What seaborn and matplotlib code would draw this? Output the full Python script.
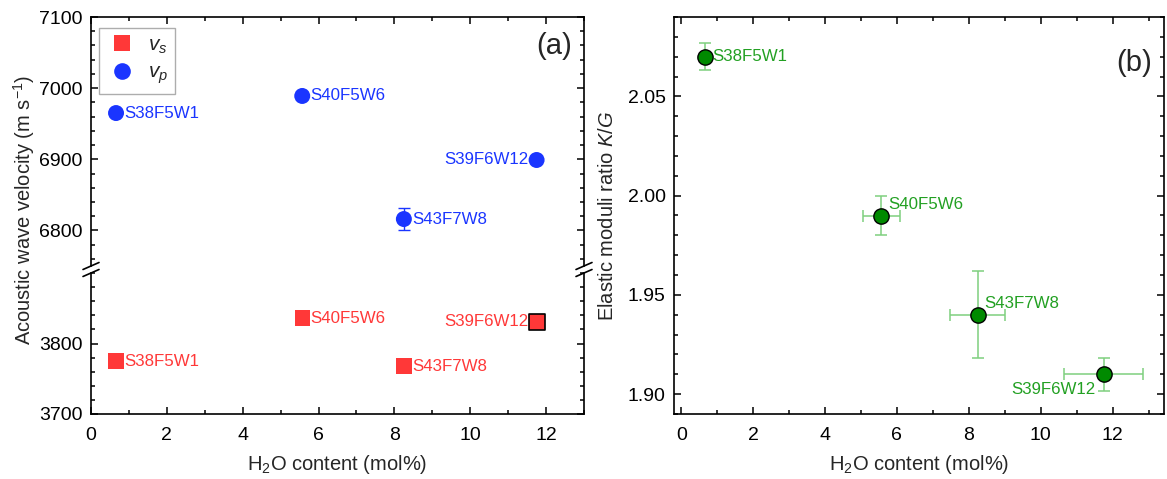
import numpy as np
import matplotlib
matplotlib.use("Agg")
import matplotlib.pyplot as plt
from matplotlib.lines import Line2D
from matplotlib.ticker import MultipleLocator, FixedLocator
import seaborn as sns
import pandas as pd

# ---------------- data ----------------
samples = ["S38F5W1", "S40F5W6", "S43F7W8", "S39F6W12"]
h2o = [0.66, 5.57, 8.25, 11.75]
h2o_err = [0.0, 0.52, 0.77, 1.09]
vp = [6965, 6989, 6816, 6899]
vp_err = [0, 0, 16, 0]
vs = [3775, 3836, 3768, 3831]
kg = [2.070, 1.990, 1.940, 1.910]
kg_err = [0.0067, 0.010, 0.022, 0.0082]

df = pd.DataFrame({"sample": samples, "h2o": h2o, "vp": vp, "vs": vs, "kg": kg})

sns.set_theme(style="ticks")
plt.rcParams["font.family"] = ["Liberation Sans", "DejaVu Sans"]
plt.rcParams["mathtext.fontset"] = "custom"
plt.rcParams["mathtext.rm"] = "Liberation Sans"
plt.rcParams["mathtext.it"] = "Liberation Sans:italic"

BLUE = "#1a35ff"
RED = "#ff3838"
GREEN = "#008a00"
GTEXT = "#22a022"
GERR = "#7fd07f"
FS_TICK = 14
FS_LAB = 14.5
FS_ANN = 12.2

W, H = 1167, 479
fig = plt.figure(figsize=(W / 100, H / 100), dpi=100)

def frac(x0, y0, x1, y1):
    return [x0 / W, 1 - y1 / H, (x1 - x0) / W, (y1 - y0) / H]

ax_up = fig.add_axes(frac(91, 17, 584, 266))
ax_lo = fig.add_axes(frac(91, 273, 584, 414))
ax_b = fig.add_axes(frac(674, 17, 1164, 414))

def style(ax, top=True, bottom=True):
    for s in ax.spines.values():
        s.set_linewidth(1.2)
        s.set_color("black")
    ax.tick_params(which="both", direction="in", top=top, bottom=bottom,
                   left=True, right=True, labelsize=FS_TICK, colors="black",
                   width=1.1)
    ax.tick_params(which="major", length=5, pad=6)
    ax.tick_params(axis="x", which="major", pad=9)
    ax.tick_params(which="minor", length=3)

# ---------- panel (a) ----------
for ax in (ax_up, ax_lo):
    ax.set_xlim(0, 13)
    ax.xaxis.set_major_locator(MultipleLocator(2))
    ax.xaxis.set_minor_locator(MultipleLocator(1))
    ax.yaxis.set_minor_locator(MultipleLocator(20))

ax_up.set_ylim(6750, 7100)
ax_lo.set_ylim(3700, 3900)
ax_up.yaxis.set_major_locator(FixedLocator([6800, 6900, 7000, 7100]))
ax_lo.yaxis.set_major_locator(FixedLocator([3700, 3800]))
style(ax_up, top=True, bottom=False)
style(ax_lo, top=False, bottom=True)
ax_up.spines["bottom"].set_visible(False)
ax_lo.spines["top"].set_visible(False)
ax_up.tick_params(labelbottom=False)

# vp
ax_up.errorbar(h2o, vp, yerr=vp_err, fmt="none", ecolor=BLUE, elinewidth=1,
               capsize=4, capthick=1, zorder=2)
sns.scatterplot(data=df, x="h2o", y="vp", ax=ax_up, marker="o", s=11.5**2,
                color=BLUE, edgecolor="none", zorder=3, legend=False)
# vs
sns.scatterplot(data=df, x="h2o", y="vs", ax=ax_lo, marker="s", s=11**2,
                color=RED, edgecolor="none", zorder=3, legend=False)
ax_lo.scatter([h2o[3]], [vs[3]], marker="s", s=11**2, color=RED,
              edgecolor="black", linewidth=1.2, zorder=4)
ax_up.set_xlabel("")
ax_up.set_ylabel("")
ax_lo.set_ylabel("")

for i, name in enumerate(samples):
    if name == "S39F6W12":
        off, ha = (-6, 0), "right"
    else:
        off, ha = (6, 0), "left"
    ax_up.annotate(name, (h2o[i], vp[i]), xytext=off, textcoords="offset points",
                   ha=ha, va="center", color=BLUE, fontsize=FS_ANN)
    ax_lo.annotate(name, (h2o[i], vs[i]), xytext=off, textcoords="offset points",
                   ha=ha, va="center", color=RED, fontsize=FS_ANN)

ax_lo.set_xlabel("H$_2$O content (mol%)", fontsize=FS_LAB, labelpad=7)
fig.text(24 / W, 1 - 210 / H, "Acoustic wave velocity (m s$^{-1}$)",
         rotation=90, ha="center", va="center", fontsize=FS_LAB)
ax_up.text(0.975, 0.885, "(a)", transform=ax_up.transAxes, ha="right",
           va="center", fontsize=21)

# break marks
for x in (91, 584):
    for y in (266, 273):
        fig.add_artist(Line2D([(x - 8) / W, (x + 8) / W],
                              [1 - (y + 3.5) / H, 1 - (y - 3.5) / H],
                              color="black", lw=1.2))

handles = [
    Line2D([], [], marker="s", ls="none", color=RED, markersize=11,
           markeredgewidth=0),
    Line2D([], [], marker="o", ls="none", color=BLUE, markersize=12,
           markeredgewidth=0),
]
leg = ax_up.legend(handles, ["$v_s$", "$v_p$"], loc="upper left",
                   bbox_to_anchor=(0.016, 0.955), frameon=True, fancybox=False,
                   edgecolor="#999999", fontsize=15, handletextpad=0.5,
                   borderpad=0.35, labelspacing=0.35, handlelength=1.5,
                   borderaxespad=0.0)
leg.get_frame().set_linewidth(1.0)

# ---------- panel (b) ----------
ax_b.errorbar(h2o, kg, xerr=h2o_err, yerr=kg_err, fmt="none", ecolor=GERR,
              elinewidth=1.1, capsize=4, capthick=1.1, zorder=2)
sns.scatterplot(data=df, x="h2o", y="kg", ax=ax_b, marker="o", s=11**2,
                color=GREEN, edgecolor="black", linewidth=1.0, zorder=3,
                legend=False)
ax_b.set_xlim(-0.2, 13.43)
ax_b.set_ylim(1.89, 2.09)
ax_b.xaxis.set_major_locator(MultipleLocator(2))
ax_b.xaxis.set_minor_locator(MultipleLocator(1))
ax_b.yaxis.set_major_locator(MultipleLocator(0.05))
ax_b.yaxis.set_minor_locator(MultipleLocator(0.01))
ax_b.yaxis.set_major_formatter(matplotlib.ticker.FormatStrFormatter("%.2f"))
style(ax_b)
ax_b.set_xlabel("H$_2$O content (mol%)", fontsize=FS_LAB, labelpad=7)
ax_b.set_ylabel("Elastic moduli ratio $K/G$", fontsize=FS_LAB, labelpad=8)
ax_b.text(0.975, 0.885, "(b)", transform=ax_b.transAxes, ha="right",
          va="center", fontsize=21)

b_offsets = {"S38F5W1": ((5, 0), "left", "center"),
             "S40F5W6": ((5, 8), "left", "center"),
             "S43F7W8": ((5, 8), "left", "center"),
             "S39F6W12": ((-6, -11), "right", "center")}
for i, name in enumerate(samples):
    off, ha, va = b_offsets[name]
    ax_b.annotate(name, (h2o[i], kg[i]), xytext=off, textcoords="offset points",
                  ha=ha, va=va, color=GTEXT, fontsize=FS_ANN)

fig.savefig("out.png", dpi=100)
